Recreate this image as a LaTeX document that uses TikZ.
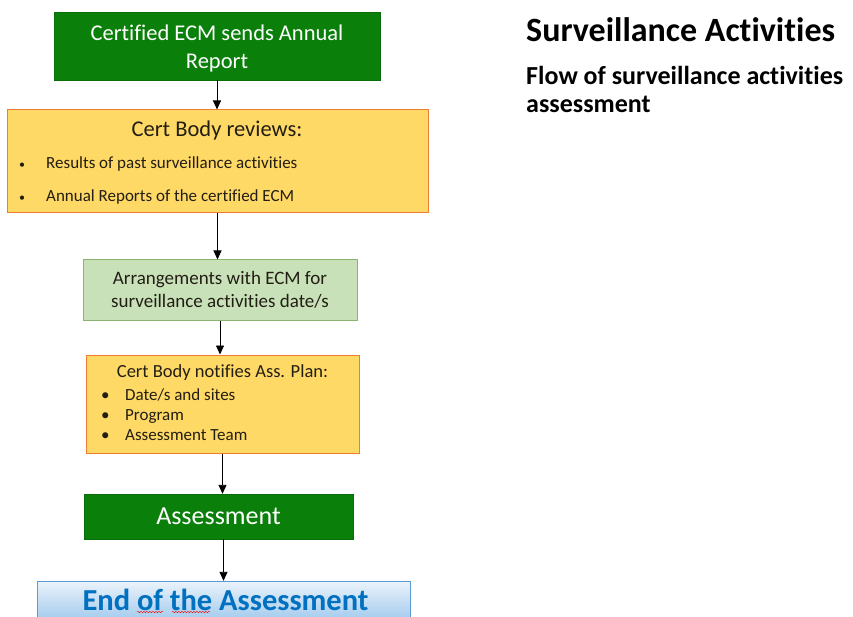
\documentclass[tikz,border=0pt]{standalone}
\usepackage{fontspec}
\setmainfont[Ligatures=NoCommon]{Carlito}
\usetikzlibrary{arrows.meta,decorations.pathmorphing}
\definecolor{ecmgreen}{RGB}{10,128,10}
\definecolor{reviewfill}{RGB}{255,217,102}
\definecolor{reviewline}{RGB}{237,125,49}
\definecolor{arrfill}{RGB}{200,225,185}
\definecolor{arrline}{RGB}{140,180,110}
\definecolor{endline}{RGB}{91,155,213}
\definecolor{endtop}{RGB}{235,243,251}
\definecolor{endbottom}{RGB}{150,195,235}
\definecolor{endtext}{RGB}{0,112,192}
\definecolor{bodytext}{RGB}{35,30,20}
\tikzset{
  darkbox/.style={fill=ecmgreen, draw=ecmgreen!85!black, text=white, align=center, inner sep=0pt},
  reviewbox/.style={fill=reviewfill, draw=reviewline, line width=1pt, inner sep=0pt},
  arrbox/.style={fill=arrfill, draw=arrline, line width=1pt, text=bodytext, align=center, inner sep=0pt},
  endbox/.style={top color=endtop, bottom color=endbottom, draw=endline, inner sep=0pt},
  item/.style={anchor=base west, inner sep=0pt, text=bodytext},
  flow/.style={-{Triangle[length=9pt,width=8pt]}, line width=0.9pt}
}
\begin{document}
\begin{tikzpicture}[x=1pt,y=-1pt]
  \useasboundingbox (0,0) rectangle (853,617);
  % flow boxes
  \node[darkbox, minimum width=326pt, minimum height=68pt] (annual) at (217,46) {};
  \node[text=white, align=center, inner sep=0pt, font=\fontsize{22.5}{28}\selectfont] (annuallabel) at (217,49) {Certified ECM sends Annual\\Report};
  \node[reviewbox, minimum width=421pt, minimum height=103pt] (reviews) at (217.5,161.5) {};
  \node[arrbox, minimum width=274pt, minimum height=60pt, font=\fontsize{19}{23}\selectfont] (arrange) at (220,290) {Arrangements with ECM for\\surveillance activities date/s};
  \node[reviewbox, minimum width=273pt, minimum height=98pt] (notify) at (222.5,404) {};
  \node[darkbox, minimum width=269pt, minimum height=45pt, font=\fontsize{26}{28}\selectfont] (assess) at (218.5,516.5) {Assessment};
  \node[endbox, minimum width=373pt, minimum height=46pt] (endbox) at (223.5,604) {};
  \node[text=endtext, font=\fontsize{30.5}{32}\selectfont\bfseries, inner sep=0pt] (endlabel) at (225.5,600) {End of the Assessment};
  \draw[red, decorate, decoration={snake, amplitude=0.8pt, segment length=3pt}] (137,612) -- (163,612);
  \draw[red, decorate, decoration={snake, amplitude=0.8pt, segment length=3pt}] (172,612) -- (210,612);
  % texts inside the yellow boxes
  \node[text=bodytext, inner sep=0pt, font=\fontsize{22.5}{26}\selectfont] (revtitle) at (217,131) {Cert Body reviews:};
  \foreach \txt [count=\i] in {Results of past surveillance activities, Annual Reports of the certified ECM}
    \node[item, font=\fontsize{17}{19}\selectfont] (rev\i) at (19,136+33*\i) {\makebox[27pt][l]{\fontsize{12}{12}\selectfont\textbullet}\txt};
  \node[text=bodytext, inner sep=0pt, font=\fontsize{18.5}{22}\selectfont] (nottitle) at (222.5,373) {Cert Body notifies Ass. Plan:};
  \foreach \txt [count=\i] in {Date/s and sites, Program, Assessment Team}
    \node[item, font=\fontsize{17}{19}\selectfont] (not\i) at (101,380+20*\i) {\makebox[24pt][l]{\textbullet}\txt};
  % connectors
  \draw[flow] (annual.south) -- (annual.south |- reviews.north);
  \draw[flow] (reviews.south) -- (reviews.south |- arrange.north);
  \draw[flow] (arrange.south) -- (arrange.south |- notify.north);
  \draw[flow] (notify.south) -- (notify.south |- assess.north);
  \draw[flow] (assess.south -| endbox) -- (endbox.north);
  % heading
  \node[anchor=base west, inner sep=0pt, font=\fontsize{34}{38}\selectfont\bfseries] (heading) at (526,42) {Surveillance Activities};
  \node[anchor=base west, inner sep=0pt, font=\fontsize{26}{28}\selectfont\bfseries] (subheading) at (526,85) {Flow of surveillance activities};
  \node[anchor=base west, inner sep=0pt, font=\fontsize{26}{28}\selectfont\bfseries] (subheading2) at (526,113) {assessment};
\end{tikzpicture}
\end{document}
